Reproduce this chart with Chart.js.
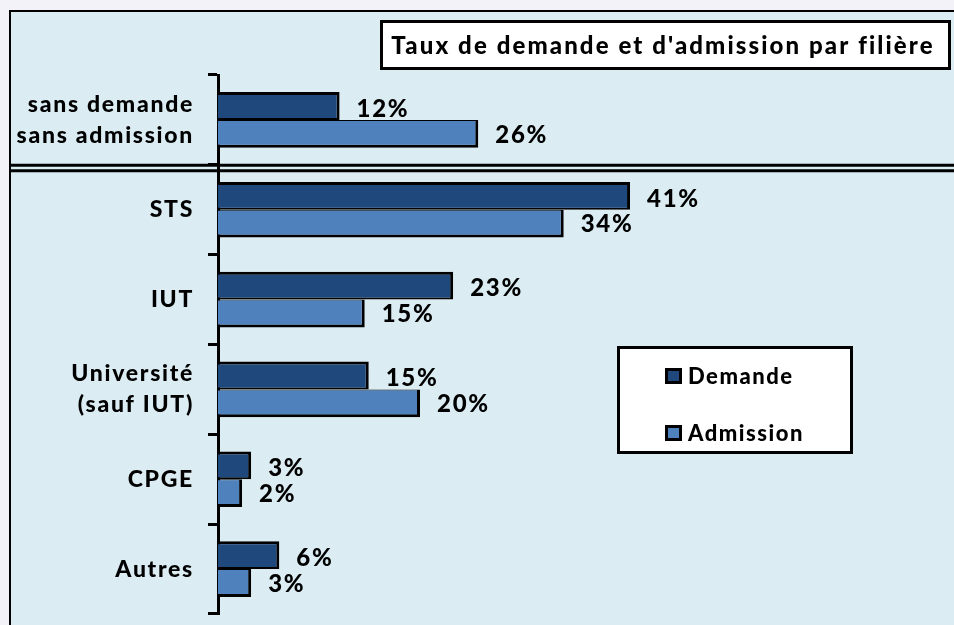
<!DOCTYPE html>
<html><head><meta charset="utf-8">
<script src="https://cdn.jsdelivr.net/npm/chart.js@4.4.1/dist/chart.umd.min.js"></script>
<style>html,body{margin:0;padding:0;background:#F3F2F8;overflow:hidden}</style>
</head><body>
<canvas id="c" width="954" height="625"></canvas>
<script>
const titleText = "Taux de demande et d'admission par filière";
const categories = [["sans demande", "sans admission"], "STS", "IUT", ["Université", "(sauf IUT)"], "CPGE", "Autres"];
const seriesNames = ["Demande", "Admission"];
const demande = [12.1, 41, 23.4, 15, 3.3, 6.1];
const admission = [25.9, 34.4, 14.6, 20.1, 2.4, 3.3];
const xMax = 70;

const FONT = "Lato, 'Open Sans', sans-serif";
const W = '900';
const C_DEM = '#1F497D';
const C_ADM = '#4F81BD';
const BG_IN = '#DBEDF3';
const BG_OUT = '#F3F2F8';

const decorPlugin = {
  id: 'decor',
  beforeDraw(chart) {
    const ctx = chart.ctx;
    ctx.save();
    ctx.fillStyle = BG_OUT;
    ctx.fillRect(0, 0, chart.width, chart.height);
    ctx.fillStyle = BG_IN;
    ctx.fillRect(10, 11, chart.width - 10, chart.height - 11);
    ctx.strokeStyle = '#000';
    ctx.lineWidth = 2;
    ctx.beginPath();
    ctx.moveTo(10, chart.height);
    ctx.lineTo(10, 11);
    ctx.lineTo(chart.width, 11);
    ctx.stroke();
    ctx.restore();
    ctx.letterSpacing = '1.7px';
  },
  afterDatasetsDraw(chart) {
    const ctx = chart.ctx;
    ctx.save();
    ctx.font = W + ' 24px ' + FONT;
    ctx.fillStyle = '#000';
    ctx.textAlign = 'left';
    ctx.textBaseline = 'middle';
    chart.data.datasets.forEach((ds, di) => {
      const meta = chart.getDatasetMeta(di);
      meta.data.forEach((bar, i) => {
        const v = ds.data[i];
        ctx.fillText(Math.round(v) + '%', bar.x + 17, bar.y + (di === 0 ? 3 : 1));
      });
    });
    const ys = chart.scales.y;
    const yb = (ys.getPixelForValue(0) + ys.getPixelForValue(1)) / 2;
    ctx.strokeStyle = '#000';
    ctx.lineWidth = 3;
    ctx.beginPath();
    ctx.moveTo(10, yb + 0.5); ctx.lineTo(chart.width, yb + 0.5);
    ctx.moveTo(10, yb + 6); ctx.lineTo(chart.width, yb + 6);
    ctx.stroke();
    ctx.restore();
  },
  afterDraw(chart) {
    const ctx = chart.ctx;
    ctx.save();
    ctx.fillStyle = '#fff';
    ctx.fillRect(381, 21, 569, 48);
    ctx.strokeStyle = '#000';
    ctx.lineWidth = 3;
    ctx.strokeRect(381.5, 21.5, 568, 47);
    ctx.fillStyle = '#000';
    ctx.font = W + ' 24px ' + FONT;
    ctx.letterSpacing = '2.1px';
    ctx.textAlign = 'center';
    ctx.textBaseline = 'middle';
    ctx.fillText(titleText, 663, 46);
    ctx.letterSpacing = '1.5px';
    ctx.fillStyle = '#fff';
    ctx.fillRect(618, 347, 234, 106);
    ctx.strokeRect(618.5, 347.5, 233, 105);
    ctx.font = W + ' 22px ' + FONT;
    ctx.textAlign = 'left';
    const ly = [376, 433];
    chart.data.datasets.forEach((ds, di) => {
      ctx.fillStyle = '#000';
      ctx.fillRect(665, ly[di] - 8, 17, 16);
      ctx.fillStyle = ds.backgroundColor;
      ctx.fillRect(668, ly[di] - 5, 11, 10);
      ctx.fillStyle = '#000';
      ctx.fillText(ds.label, 688, ly[di] + 1);
    });
    ctx.restore();
    ctx.letterSpacing = '0px';
  }
};

new Chart(document.getElementById('c'), {
  type: 'bar',
  data: {
    labels: categories,
    datasets: [
      { label: seriesNames[0], data: demande, backgroundColor: C_DEM, borderColor: '#000',
        borderWidth: { top: 3, right: 3, bottom: 2, left: 0 }, borderSkipped: false },
      { label: seriesNames[1], data: admission, backgroundColor: C_ADM, borderColor: '#000',
        borderWidth: { top: 1, right: 3, bottom: 3, left: 0 }, borderSkipped: false }
    ]
  },
  options: {
    indexAxis: 'y',
    responsive: false,
    animation: false,
    devicePixelRatio: 1,
    layout: { autoPadding: false, padding: { left: 10, top: 75, right: 32.5, bottom: 11 } },
    datasets: { bar: { barPercentage: 1, categoryPercentage: 0.62 } },
    plugins: { legend: { display: false }, title: { display: false }, tooltip: { enabled: false } },
    scales: {
      x: { display: false, min: 0, max: xMax },
      y: {
        afterFit(scale) { scale.width = 208; scale.paddingTop = 0; scale.paddingBottom = 0; },
        grid: { display: true, drawOnChartArea: false, drawTicks: true, tickLength: 10, tickWidth: 3, tickColor: '#000', offset: true },
        border: { display: true, width: 3, color: '#000' },
        ticks: { color: '#000', padding: 14, font: { family: FONT, size: 23, weight: W, lineHeight: 1.35 } }
      }
    }
  },
  plugins: [decorPlugin]
});
</script>
</body></html>
